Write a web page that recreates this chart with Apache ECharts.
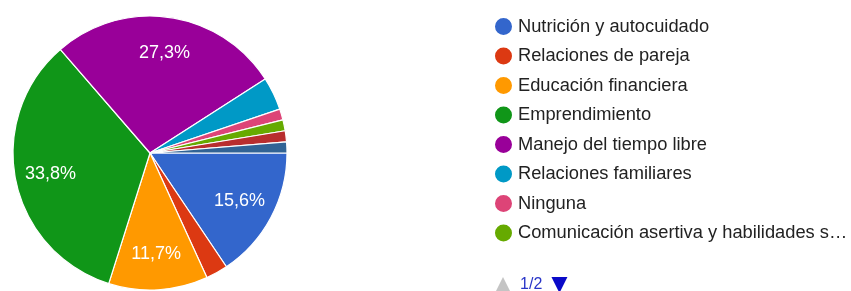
<!DOCTYPE html>
<html>
<head>
<meta charset="utf-8">
<script src="https://cdn.jsdelivr.net/npm/echarts@6/dist/echarts.min.js"></script>
<style>
html,body{margin:0;padding:0;background:#fff;}
#chart{width:851px;height:291px;}
</style>
</head>
<body>
<div id="chart"></div>
<script>
// Categories (last two are on legend page 2)
const categories = [
  "Nutrición y autocuidado",
  "Relaciones de pareja",
  "Educación financiera",
  "Emprendimiento",
  "Manejo del tiempo libre",
  "Relaciones familiares",
  "Ninguna",
  "Comunicación asertiva y habilidades sociales",
  "Proyecto de vida",
  "Salud mental"
];
// Response counts (77 responses total)
const counts = [12, 2, 9, 26, 21, 3, 1, 1, 1, 1];
const colors = ["#3366cc", "#dc3912", "#ff9900", "#109618", "#990099",
                "#0099c6", "#dd4477", "#66aa00", "#b82e2e", "#316395"];

const data = categories.map((n, i) => ({ name: n, value: counts[i] }));
const total = counts.reduce((a, b) => a + b, 0);

const FONT = "Liberation Sans, Arial, sans-serif";
const LEGEND_FONT_SIZE = 18.3;
const CLEAR = 'rgba(0,0,0,0)';

// shared paging geometry for both legend components
const legendPaging = {
  type: 'scroll',
  orient: 'vertical',
  top: 16,
  height: 277,
  padding: 0,
  data: categories,
  pageButtonItemGap: 2,
  pageButtonGap: 26,
  pageIconSize: 16
};

const chart = echarts.init(document.getElementById('chart'), null, { renderer: 'canvas' });
chart.setOption({
  animation: false,
  color: colors,
  legend: [
    Object.assign({}, legendPaging, {
      left: 493,
      icon: 'circle',
      itemWidth: 19,
      itemHeight: 19,
      itemGap: 8.5,
      itemTextGap: 7,
      formatter: function (name) {
        return echarts.format.truncateText(name, 332,
          LEGEND_FONT_SIZE + 'px ' + FONT, '…');
      },
      textStyle: {
        fontFamily: FONT,
        fontSize: LEGEND_FONT_SIZE,
        color: '#222222'
      },
      // pager of this (wide) legend is drawn by the narrow legend below
      pageIconColor: CLEAR,
      pageIconInactiveColor: CLEAR,
      pageTextStyle: { color: CLEAR }
    }),
    Object.assign({}, legendPaging, {
      left: 495,
      icon: 'circle',
      itemWidth: 18,
      itemHeight: 21,
      itemGap: 8.5,
      itemStyle: { opacity: 0 },
      inactiveColor: CLEAR,
      formatter: function () { return ''; },
      pageIconColor: '#0a0ac8',
      pageIconInactiveColor: '#c4c4c4',
      pageTextStyle: { color: '#2a36c8', fontFamily: FONT, fontSize: 16 }
    })
  ],
  series: [
    {
      type: 'pie',
      center: [150, 153],
      radius: [0, 137],
      startAngle: 0,
      clockwise: true,
      data: data,
      label: { show: false },
      labelLine: { show: false },
      itemStyle: { borderColor: '#ffffff', borderWidth: 1.2 },
      emphasis: { disabled: true }
    },
    {
      type: 'pie',
      center: [150, 153],
      radius: [60, 137],
      startAngle: 0,
      clockwise: true,
      silent: true,
      data: data,
      itemStyle: { color: CLEAR, borderWidth: 0 },
      labelLine: { show: false },
      emphasis: { disabled: true },
      label: {
        show: true,
        position: 'inside',
        color: '#ffffff',
        fontFamily: FONT,
        fontSize: 18,
        formatter: function (p) {
          const pct = p.value / total * 100;
          if (pct < 5) return '';
          return pct.toFixed(1).replace('.', ',') + '%';
        }
      }
    }
  ]
});
</script>
</body>
</html>
